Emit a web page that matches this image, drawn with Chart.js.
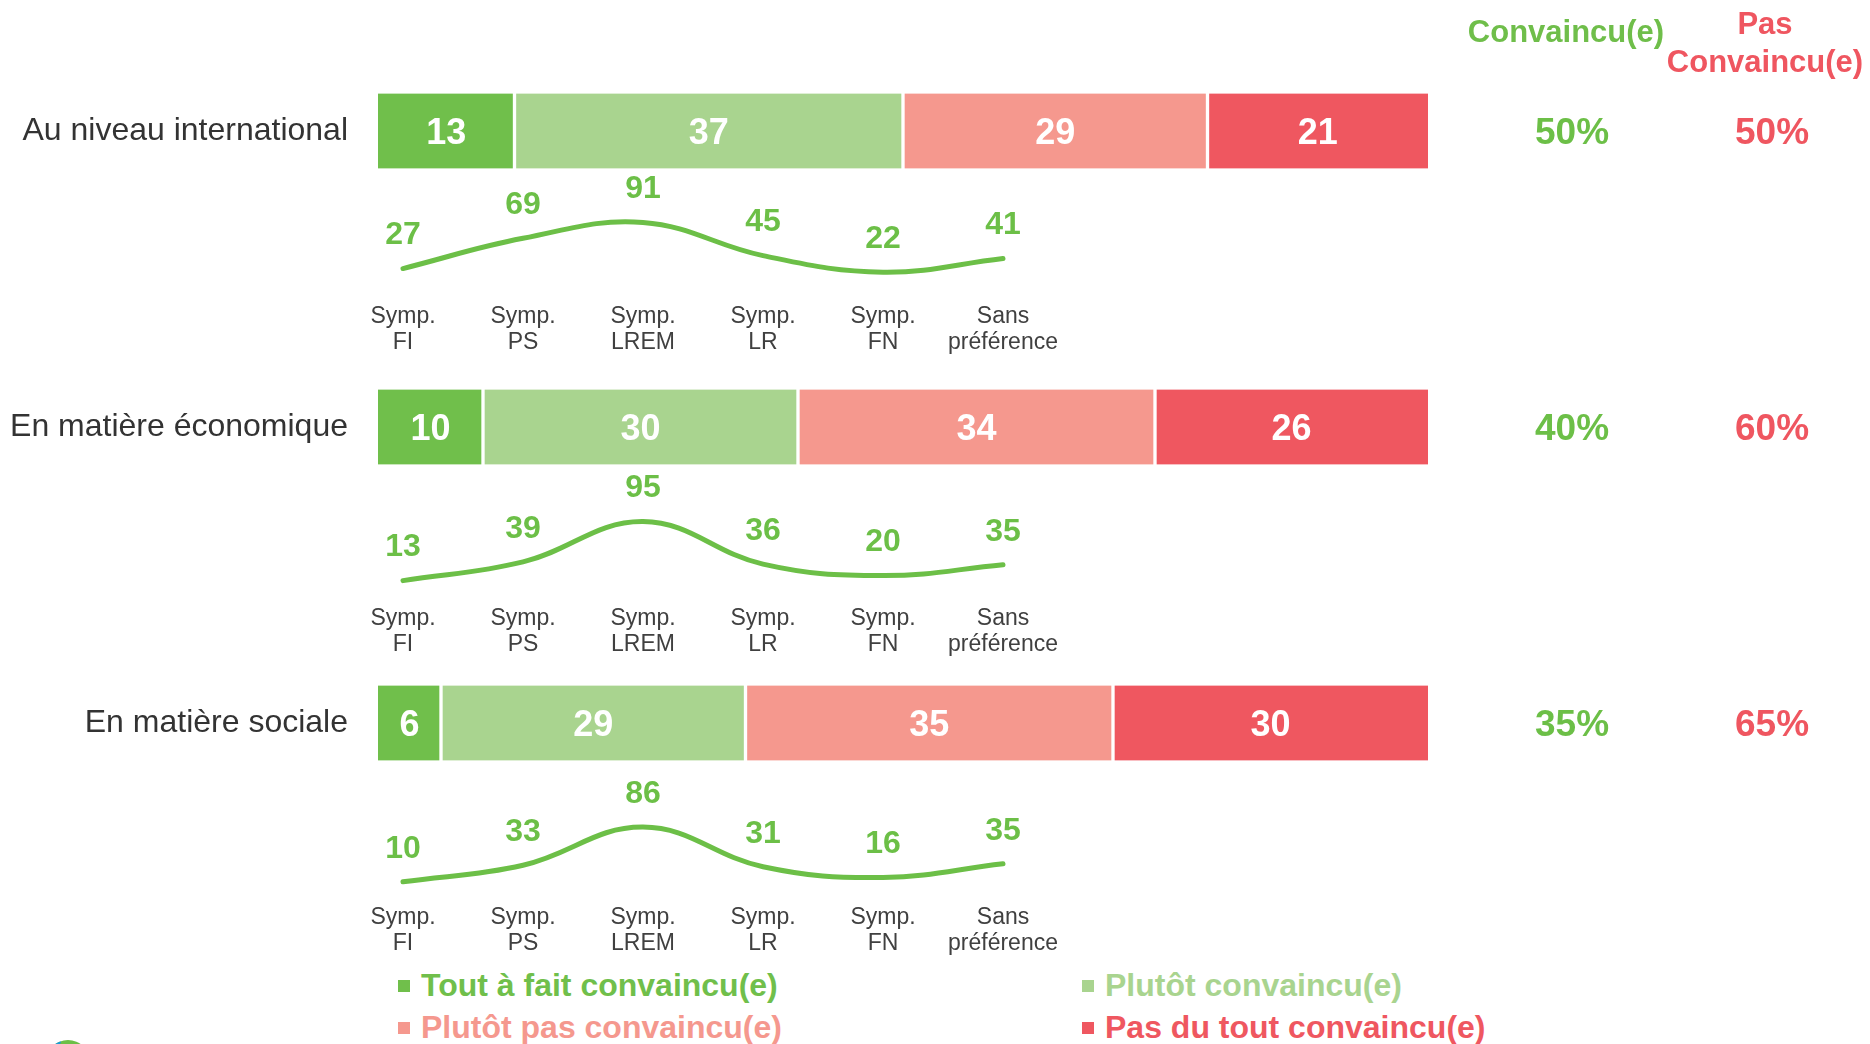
<!DOCTYPE html>
<html>
<head>
<meta charset="utf-8">
<script src="https://cdn.jsdelivr.net/npm/chart.js@4.4.0/dist/chart.umd.min.js"></script>
<style>
  html, body { margin: 0; padding: 0; background: #fff; }
  body { width: 1870px; height: 1044px; position: relative; overflow: hidden; font-family: 'Liberation Sans', Arial, sans-serif; }
  canvas { position: absolute; }
  .head { position: absolute; font-weight: bold; font-size: 31px; line-height: 38px; text-align: center; }
  .leg { position: absolute; font-weight: bold; font-size: 32px; line-height: 40px; white-space: nowrap; }
  .leg .sq { display: inline-block; width: 12px; height: 12px; margin-right: 11px; vertical-align: middle; position: relative; top: -2px; }
  .logo { position: absolute; left: 46px; top: 1040px; width: 44px; height: 44px; border-radius: 50%; background: #6cbf47; overflow: hidden; }
  .logo i { position: absolute; left: -6px; top: -4px; width: 18px; height: 18px; background: #1b9bd7; transform: rotate(30deg); }
</style>
</head>
<body>
<canvas id="bars" width="1870" height="888" style="left:0;top:-17px"></canvas>
<canvas id="line0" width="720" height="212"></canvas>
<canvas id="line1" width="720" height="212"></canvas>
<canvas id="line2" width="720" height="212"></canvas>
<div class="head" style="left:1456px;top:13px;width:220px;color:#6fbe4a">Convaincu(e)</div>
<div class="head" style="left:1655px;top:5px;width:220px;color:#ef5660">Pas<br>Convaincu(e)</div>
<div id="legend"></div>
<div class="logo"><i></i></div>
<script>
const rows = ['Au niveau international', 'En matière économique', 'En matière sociale'];
const seriesNames = ['Tout à fait convaincu(e)', 'Plutôt convaincu(e)', 'Plutôt pas convaincu(e)', 'Pas du tout convaincu(e)'];
const toutAFait = [13, 10, 6];
const plutot = [37, 30, 29];
const plutotPas = [29, 34, 35];
const pasDuTout = [21, 26, 30];
const convaincu = [50, 40, 35];
const pasConvaincu = [50, 60, 65];

const parties = [['Symp.', 'FI'], ['Symp.', 'PS'], ['Symp.', 'LREM'], ['Symp.', 'LR'], ['Symp.', 'FN'], ['Sans', 'préférence']];
const partiInternational = [27, 69, 91, 45, 22, 41];
const partiEconomique = [13, 39, 95, 36, 20, 35];
const partiSociale = [10, 33, 86, 31, 16, 35];

const FONT = '"Liberation Sans", Arial, sans-serif';
const colors = ['#70bf4b', '#a9d48f', '#f5988e', '#ef5760'];
const green = '#6cbf47';
const red = '#ef5660';

// bar values + right-hand percentages
const barLabels = {
  id: 'barLabels',
  afterDatasetsDraw(chart) {
    const ctx = chart.ctx;
    ctx.save();
    ctx.textAlign = 'center';
    ctx.textBaseline = 'middle';
    ctx.font = 'bold 36px ' + FONT;
    ctx.fillStyle = '#fff';
    chart.data.datasets.forEach((ds, i) => {
      chart.getDatasetMeta(i).data.forEach((bar, j) => {
        const p = bar.getCenterPoint();
        ctx.fillText(ds.data[j], p.x, p.y + 3);
      });
    });
    ctx.font = 'bold 37px ' + FONT;
    rows.forEach((r, j) => {
      const y = chart.scales.y.getPixelForValue(j) + 3;
      ctx.fillStyle = green;
      ctx.fillText(convaincu[j] + '%', 1572, y);
      ctx.fillStyle = red;
      ctx.fillText(pasConvaincu[j] + '%', 1772, y);
    });
    ctx.restore();
  }
};

const bw = [
  { left: 0, right: 2, top: 0, bottom: 0 },
  { left: 2, right: 2, top: 0, bottom: 0 },
  { left: 2, right: 2, top: 0, bottom: 0 },
  { left: 2, right: 0, top: 0, bottom: 0 }
];

new Chart(document.getElementById('bars'), {
  type: 'bar',
  data: {
    labels: rows,
    datasets: [toutAFait, plutot, plutotPas, pasDuTout].map((d, i) => ({
      label: seriesNames[i],
      data: d,
      backgroundColor: colors[i],
      borderColor: '#fff',
      borderWidth: bw[i],
      borderSkipped: false,
      barThickness: 75
    }))
  },
  options: {
    indexAxis: 'y',
    responsive: false,
    animation: false,
    layout: { autoPadding: false, padding: { left: 0, right: 442, top: 0, bottom: 0 } },
    plugins: { legend: { display: false }, tooltip: { enabled: false } },
    scales: {
      x: { stacked: true, min: 0, max: 100, display: false },
      y: {
        stacked: true,
        grid: { display: false, drawTicks: false },
        border: { display: false },
        ticks: { color: '#333', font: { size: 32, family: FONT }, padding: 30 },
        afterFit: s => { s.width = 378; s.paddingTop = 0; s.paddingBottom = 0; }
      }
    }
  },
  plugins: [barLabels]
});

const pointLabels = {
  id: 'pointLabels',
  afterDatasetsDraw(chart) {
    const ctx = chart.ctx;
    const ds = chart.data.datasets[0];
    ctx.save();
    ctx.font = 'bold 32px ' + FONT;
    ctx.textAlign = 'center';
    ctx.textBaseline = 'middle';
    ctx.fillStyle = green;
    chart.getDatasetMeta(0).data.forEach((pt, i) => {
      ctx.fillText(ds.data[i], pt.x, pt.y - 33);
    });
    ctx.restore();
  }
};

// value 0 of each small line chart, page pixels
const zeroY = [288, 590, 889];
[partiInternational, partiEconomique, partiSociale].forEach((vals, g) => {
  const cv = document.getElementById('line' + g);
  cv.style.left = '343px';
  cv.style.top = (zeroY[g] - 142) + 'px';
  new Chart(cv, {
    type: 'line',
    data: {
      labels: parties,
      datasets: [{
        data: vals,
        borderColor: green,
        borderWidth: 5,
        borderCapStyle: 'round',
        tension: 0.4,
        pointRadius: 0,
        fill: false,
        clip: false
      }]
    },
    options: {
      responsive: false,
      animation: false,
      layout: { autoPadding: false, padding: { top: 70, bottom: 0, left: 0, right: 0 } },
      plugins: { legend: { display: false }, tooltip: { enabled: false } },
      scales: {
        x: {
          offset: true,
          grid: { display: false, drawTicks: false },
          border: { display: false },
          ticks: { color: '#404040', font: { size: 23, family: FONT, lineHeight: 1.15 }, padding: 15, autoSkip: false, maxRotation: 0 },
          afterFit: s => { s.height = 70; s.paddingLeft = 0; s.paddingRight = 0; }
        },
        y: { display: false, min: 0, max: 100 }
      }
    },
    plugins: [pointLabels]
  });
});

// legend, 2 x 2
const legPos = [[398, 965], [1082, 965], [398, 1007], [1082, 1007]];
const legend = document.getElementById('legend');
seriesNames.forEach((name, i) => {
  const d = document.createElement('div');
  d.className = 'leg';
  d.style.left = legPos[i][0] + 'px';
  d.style.top = legPos[i][1] + 'px';
  d.style.color = colors[i];
  d.innerHTML = '<span class="sq" style="background:' + colors[i] + '"></span>' + name;
  legend.appendChild(d);
});
</script>
</body>
</html>
